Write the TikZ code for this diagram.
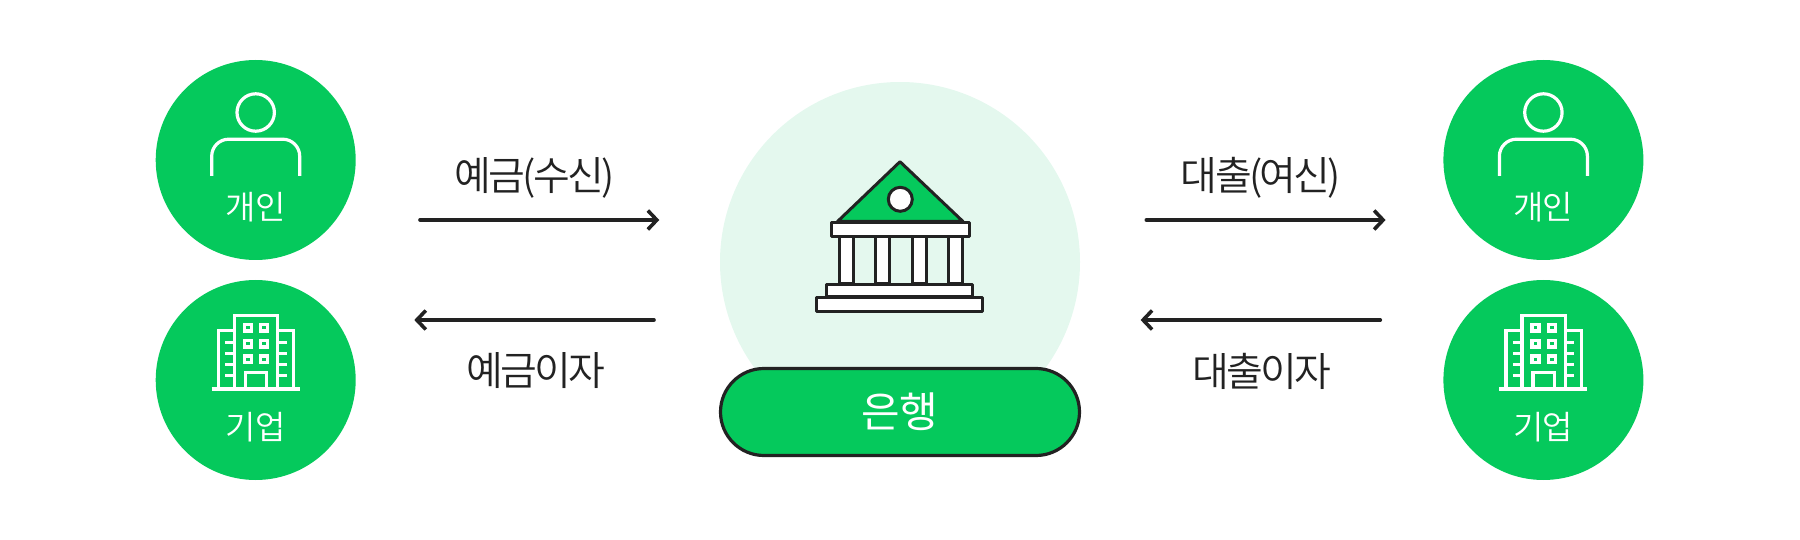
\documentclass[tikz,border=0pt]{standalone}
\usepackage{fontspec}
\usepackage{tikz}
\usetikzlibrary{arrows.meta}
\newfontfamily\krfont[LetterSpace=-3]{Noto Sans CJK KR DemiLight}
\newfontfamily\krtall[LetterSpace=-7]{Noto Sans CJK KR DemiLight}
\newfontfamily\krbold[LetterSpace=-3]{Noto Sans CJK KR}
\definecolor{bankgreen}{HTML}{05C95C}
\definecolor{palegreen}{HTML}{E4F8EE}
\definecolor{inkgray}{HTML}{222222}
\def\bankglow{(900,262) circle(180)}
\def\bankroof{(900,161.7) -- (963,221.5) -- (837.5,221.5) -- cycle}
\tikzset{
	client/.style={circle,fill=bankgreen,inner sep=0pt,minimum size=200pt},
	clienttext/.style={text=white,font=\krfont\fontsize{33}{33}\selectfont,inner sep=0pt},
	flowtext/.style={text=inkgray,font=\krtall\fontsize{40}{40}\selectfont,inner sep=0pt},
	flow/.style={draw=inkgray,line width=3.6pt,line cap=round,-{Straight Barb[length=9pt,width=19pt,line width=3.6pt]}},
	iconline/.style={draw=white,line width=3.2pt},
	bankline/.style={draw=inkgray,line width=3pt,line join=round,fill=white}
}
\begin{document}
\begin{tikzpicture}[x=1pt,y=-1pt]
	\useasboundingbox (0,0) rectangle (1800,540);
	
	%pale circle behind the bank
	\fill [palegreen] \bankglow;
	
	%clients on both sides
	\foreach \cx/\side in {255.7/l,1543.4/r}{
		\node [client] (person\side) at (\cx,160) {};
		\node [client] (firm\side) at (\cx,380) {};
		\node [clienttext] (persontext\side) at (\cx,207.5) {개인};
		\node [clienttext] (firmtext\side) at (\cx,427.5) {기업};
		
		%person icon
		\begin{scope}[shift={(\cx,0)}]
			\draw [iconline] (0,112.5) circle(18.7);
			\draw [iconline,rounded corners=17pt] (-44,176) -- (-44,139.2) -- (44,139.2) -- (44,176);
			
			%building icon
			\draw [iconline] (-44,389) -- (44,389);
			\draw [iconline] (-21.5,389) -- (-21.5,315.2) -- (22,315.2) -- (22,389);
			\draw [iconline] (-21.5,330.8) -- (-37.5,330.8) -- (-37.5,389);
			\draw [iconline] (22,330.8) -- (38,330.8) -- (38,389);
			\draw [iconline] (-10.5,389) -- (-10.5,372.5) -- (11,372.5) -- (11,389);
			\foreach \wy in {327.8,343.8,359.2}{
				\draw [iconline] (-11.5,\wy-3.2) rectangle (-4.5,\wy+3.2);
				\draw [iconline] (5,\wy-3.2) rectangle (12,\wy+3.2);
			}
			\foreach \ty in {342.2,353.8,364.8,375.2}{
				\draw [iconline] (-30.5,\ty) -- (-21.5,\ty);
				\draw [iconline] (22,\ty) -- (31,\ty);
			}
		\end{scope}
	}
	
	%bank building
	\draw [bankline,fill=bankgreen] \bankroof;
	\draw [bankline] (900.3,199.3) circle(12);
	\foreach \colx in {838.3,874.7,911,947.3}
		\draw [bankline] (\colx+1,236.5) rectangle (\colx+15,284);
	\draw [bankline] (831.9,222.5) rectangle (969.1,236.5);
	\draw [bankline] (826.2,284.5) rectangle (972.2,296.5);
	\draw [bankline] (816,297) rectangle (982.4,311.5);
	
	\node [draw=inkgray,line width=3.2pt,fill=bankgreen,rounded corners=43.5pt,minimum width=359pt,minimum height=87pt,inner sep=0pt,text=white,font=\krbold\fontsize{42}{42}\selectfont] (bank) at (900,412) {은행};
	
	%arrows and their labels
	\foreach \ax/\first/\second/\nm in {0/예금(수신)/예금이자/dep,726.3/대출(여신)/대출이자/loan}{
		\begin{scope}[shift={(\ax,0)}]
			\coordinate (\nm a) at (420,220);
			\coordinate (\nm b) at (659.3,220);
			\coordinate (\nm c) at (654,320);
			\coordinate (\nm d) at (414.3,320);
			\draw [flow] (\nm a) -- (\nm b);
			\draw [flow] (\nm c) -- (\nm d);
			\node [flowtext] (\nm top) at (534.5,178) {\first};
			\node [flowtext] (\nm bottom) at (535.5,371) {\second};
		\end{scope}
	}
\end{tikzpicture}
\end{document}
